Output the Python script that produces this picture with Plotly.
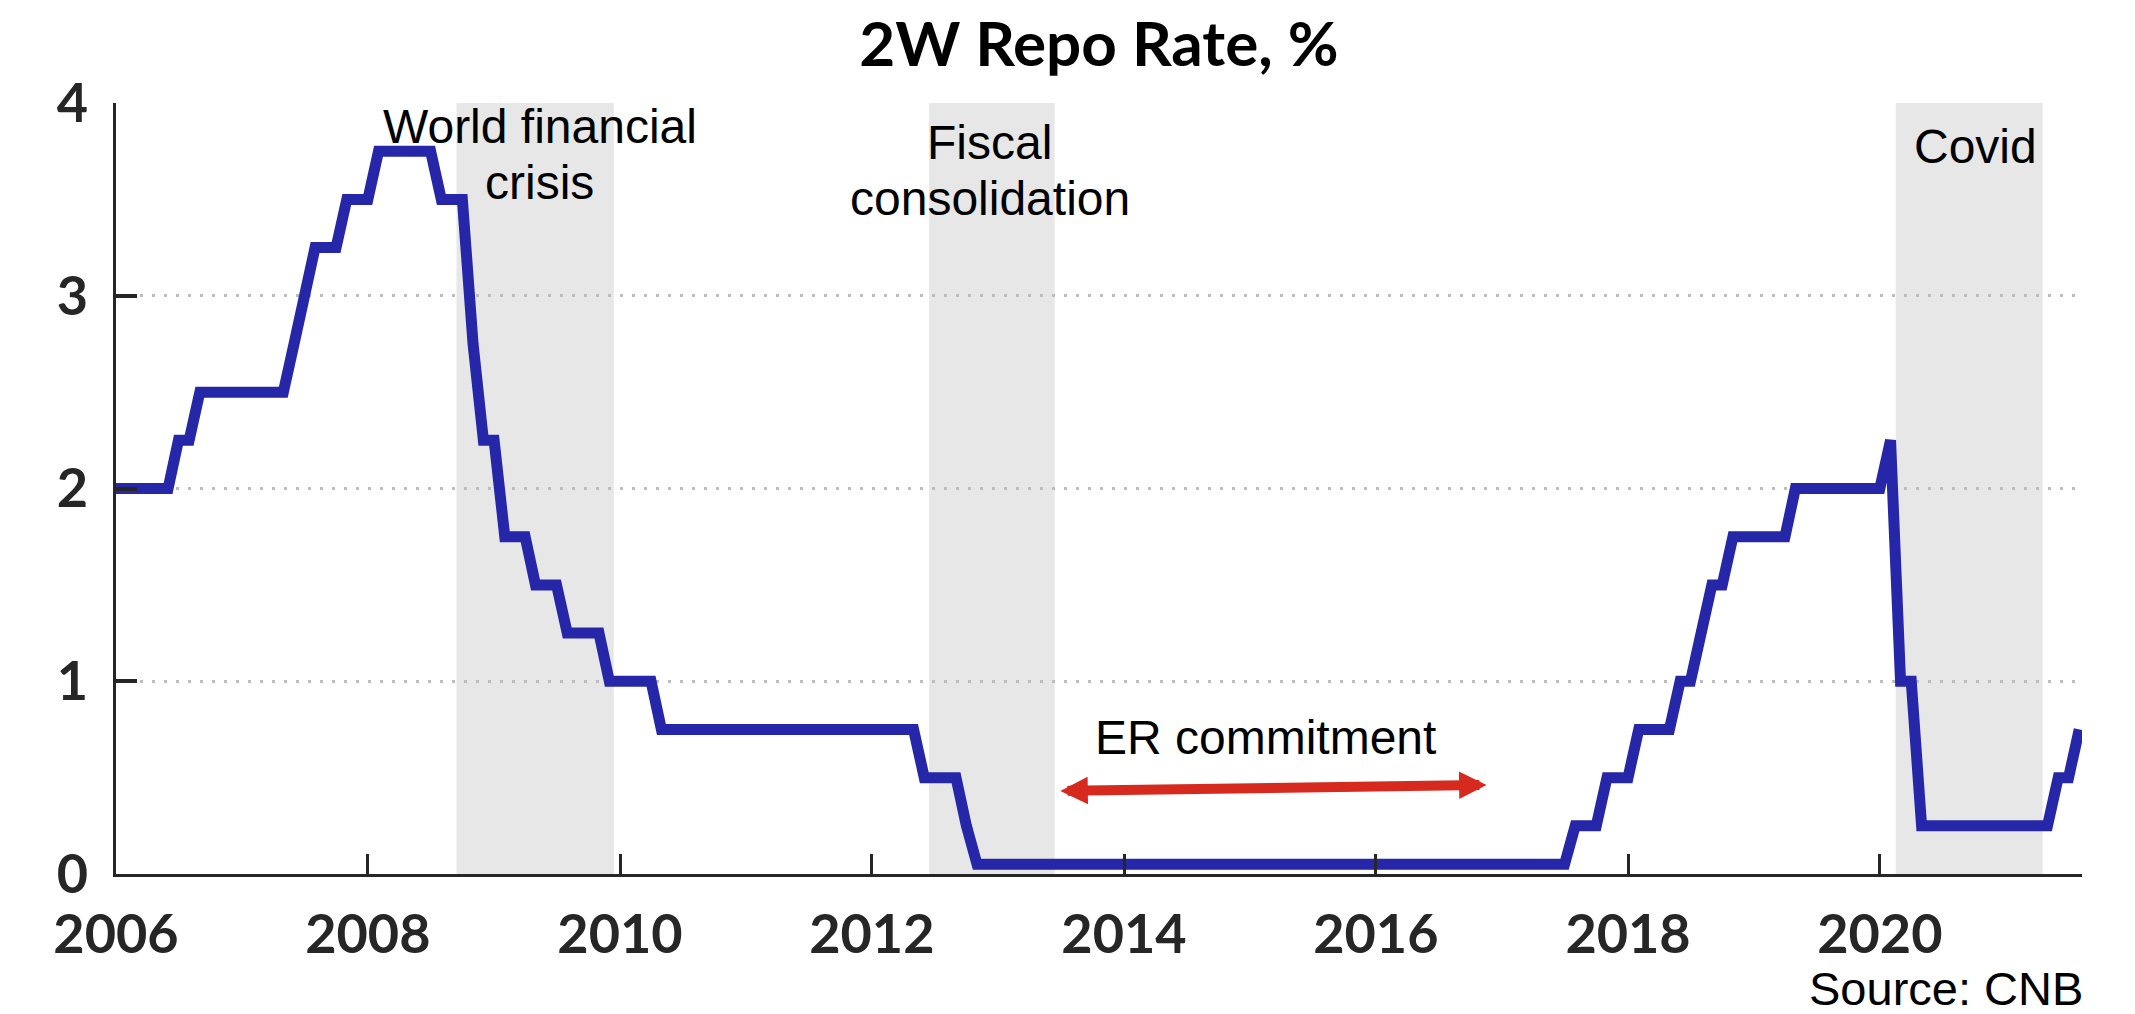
import pandas as pd
import plotly.graph_objects as go

# ---------------- data ----------------
# Monthly 2W repo rate, %, Jan 2006 .. Aug 2021
rate_2006 = [2.0, 2.0, 2.0, 2.0, 2.0, 2.0, 2.25, 2.25, 2.5, 2.5, 2.5, 2.5]
rate_2007 = [2.5, 2.5, 2.5, 2.5, 2.5, 2.75, 3.0, 3.25, 3.25, 3.25, 3.5, 3.5]
rate_2008 = [3.5, 3.75, 3.75, 3.75, 3.75, 3.75, 3.75, 3.5, 3.5, 3.5, 2.75, 2.25]
rate_2009 = [2.25, 1.75, 1.75, 1.75, 1.5, 1.5, 1.5, 1.25, 1.25, 1.25, 1.25, 1.0]
rate_2010 = [1.0, 1.0, 1.0, 1.0, 0.75, 0.75, 0.75, 0.75, 0.75, 0.75, 0.75, 0.75]
rate_2011 = [0.75, 0.75, 0.75, 0.75, 0.75, 0.75, 0.75, 0.75, 0.75, 0.75, 0.75, 0.75]
rate_2012 = [0.75, 0.75, 0.75, 0.75, 0.75, 0.5, 0.5, 0.5, 0.5, 0.25, 0.05, 0.05]
rate_2013 = [0.05, 0.05, 0.05, 0.05, 0.05, 0.05, 0.05, 0.05, 0.05, 0.05, 0.05, 0.05]
rate_2014 = [0.05, 0.05, 0.05, 0.05, 0.05, 0.05, 0.05, 0.05, 0.05, 0.05, 0.05, 0.05]
rate_2015 = [0.05, 0.05, 0.05, 0.05, 0.05, 0.05, 0.05, 0.05, 0.05, 0.05, 0.05, 0.05]
rate_2016 = [0.05, 0.05, 0.05, 0.05, 0.05, 0.05, 0.05, 0.05, 0.05, 0.05, 0.05, 0.05]
rate_2017 = [0.05, 0.05, 0.05, 0.05, 0.05, 0.05, 0.05, 0.25, 0.25, 0.25, 0.5, 0.5]
rate_2018 = [0.5, 0.75, 0.75, 0.75, 0.75, 1.0, 1.0, 1.25, 1.5, 1.5, 1.75, 1.75]
rate_2019 = [1.75, 1.75, 1.75, 1.75, 2.0, 2.0, 2.0, 2.0, 2.0, 2.0, 2.0, 2.0]
rate_2020 = [2.0, 2.25, 1.0, 1.0, 0.25, 0.25, 0.25, 0.25, 0.25, 0.25, 0.25, 0.25]
rate_2021 = [0.25, 0.25, 0.25, 0.25, 0.25, 0.5, 0.5, 0.75]

rate = (rate_2006 + rate_2007 + rate_2008 + rate_2009 + rate_2010 + rate_2011
        + rate_2012 + rate_2013 + rate_2014 + rate_2015 + rate_2016 + rate_2017
        + rate_2018 + rate_2019 + rate_2020 + rate_2021)
months = pd.date_range(start="2006-01-01", periods=len(rate), freq="MS")

# Shaded episodes
episode_start = ["2008-09-14", "2012-06-15", "2020-02-16"]
episode_end = ["2009-12-14", "2013-06-14", "2021-04-17"]

x_ticks = ["2006-01-01", "2008-01-01", "2010-01-01", "2012-01-01",
           "2014-01-01", "2016-01-01", "2018-01-01", "2020-01-01"]
x_tick_labels = ["2006", "2008", "2010", "2012", "2014", "2016", "2018", "2020"]
y_ticks = [0, 1, 2, 3, 4]
y_tick_labels = ["0", "1", "2", "3", "4"]

title_text = "2W Repo Rate, %"
source_text = "Source: CNB"

# ---------------- figure ----------------
LINE_COLOR = "#2626A9"
AXIS_COLOR = "#262626"
SHADE = "#E7E7E7"
BOLD_FONT = "Lato"
TEXT_FONT = "Liberation Sans, Arial, sans-serif"

fig = go.Figure()
fig.add_trace(go.Scatter(
    x=months, y=rate, mode="lines",
    line=dict(color=LINE_COLOR, width=11),
    hoverinfo="x+y", showlegend=False,
))

for s, e in zip(episode_start, episode_end):
    fig.add_shape(type="rect", xref="x", yref="y", x0=s, x1=e, y0=0, y1=4,
                  fillcolor=SHADE, line=dict(width=0), layer="below")

ann_font = dict(family=TEXT_FONT, size=48, color="black")
annotations = [
    dict(x="2009-05-14", y=3.878, text="World financial"),
    dict(x="2009-05-14", y=3.585, text="crisis"),
    dict(x="2012-12-08", y=3.797, text="Fiscal"),
    dict(x="2012-12-08", y=3.502, text="consolidation"),
    dict(x="2020-10-05", y=3.772, text="Covid"),
    dict(x="2015-02-16", y=0.706, text="ER commitment"),
]
for a in annotations:
    fig.add_annotation(x=a["x"], y=a["y"], xref="x", yref="y", text=a["text"],
                       showarrow=False, xanchor="center", yanchor="middle",
                       font=ann_font)

# double-headed red arrow
fig.add_annotation(
    x="2016-11-17", y=0.462, ax="2013-06-26", ay=0.431,
    xref="x", yref="y", axref="x", ayref="y", text="",
    showarrow=True, arrowside="end+start", arrowhead=2, startarrowhead=2,
    arrowsize=0.55, startarrowsize=0.55, arrowwidth=10, arrowcolor="#D62A1F",
    standoff=0, startstandoff=0,
)

fig.add_annotation(x=1.0015, y=-0.148, xref="paper", yref="paper",
                   text=source_text, showarrow=False, xanchor="right",
                   yanchor="middle", font=dict(family=TEXT_FONT, size=47, color="black"))

fig.update_layout(
    width=2135, height=1014,
    margin=dict(l=116, r=53, t=103, b=140),
    paper_bgcolor="white", plot_bgcolor="white",
    title=dict(text=title_text, x=0.5, xref="paper", y=1 - 44 / 1014,
               yref="container", xanchor="center", yanchor="middle",
               font=dict(family=BOLD_FONT, size=62, color="black", weight="bold")),
    showlegend=False,
)

fig.update_xaxes(
    type="date", range=["2006-01-01", "2021-08-09"],
    tickmode="array", tickvals=x_ticks, ticktext=x_tick_labels,
    ticks="inside", ticklen=20, tickwidth=3, tickcolor=AXIS_COLOR,
    showline=True, linecolor=AXIS_COLOR, linewidth=3,
    showgrid=False, zeroline=False,
    tickfont=dict(family=BOLD_FONT, size=54, color=AXIS_COLOR, weight="bold"),
    ticklabelstandoff=11,
)
fig.update_yaxes(
    range=[0, 4],
    tickmode="array", tickvals=y_ticks, ticktext=y_tick_labels,
    ticks="inside", ticklen=21, tickwidth=4, tickcolor=AXIS_COLOR,
    showline=True, linecolor=AXIS_COLOR, linewidth=3,
    showgrid=True, gridcolor="#BDBDBD", gridwidth=3, griddash="3px,9px",
    zeroline=False,
    tickfont=dict(family=BOLD_FONT, size=54, color=AXIS_COLOR, weight="bold"),
    ticklabelstandoff=14,
)

fig.write_html("out.html", config={"displayModeBar": False},
               post_script="document.body.style.margin='0px';")
